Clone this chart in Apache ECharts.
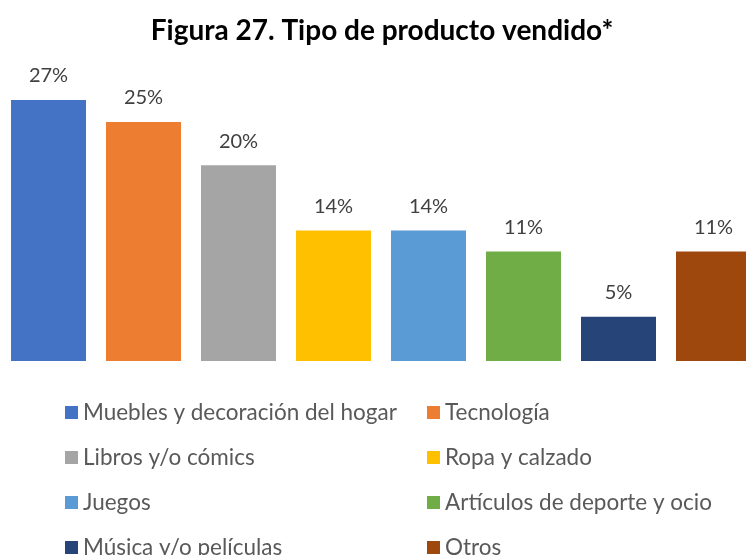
<!DOCTYPE html>
<html>
<head>
<meta charset="utf-8">
<script src="https://cdn.jsdelivr.net/npm/echarts@6/dist/echarts.min.js"></script>
<style>
    html, body { margin: 0; padding: 0; background: #fff; }
    #mychart { width: 746px; height: 555px; }
</style>
</head>
<body>
<div id="mychart"></div>
<script>
// categorías y porcentajes
var categorias = ['Muebles y decoración del hogar', 'Tecnología', 'Libros y/o cómics', 'Ropa y calzado',
    'Juegos', 'Artículos de deporte y ocio', 'Música y/o películas', 'Otros'];
var valores = [27.2, 24.9, 20.4, 13.6, 13.6, 11.4, 4.6, 11.4];
var colores = ['#4472C4', '#ED7D31', '#A5A5A5', '#FFC000', '#5B9BD5', '#70AD47', '#264478', '#9E480E'];

var myChart = echarts.init(document.getElementById('mychart'));

var series = [];
for (var i = 0; i < categorias.length; i++) {
    var datos = [];
    for (var j = 0; j < categorias.length; j++) {
        datos.push(j == i ? valores[i] : null);
    }
    series.push({
        name: categorias[i],
        type: 'bar',
        stack: 'total',
        barWidth: 75,
        data: datos,
        itemStyle: { color: colores[i] },
        label: {
            show: true,
            position: 'top',
            distance: 14,
            color: '#404040',
            fontSize: 20,
            fontFamily: 'Lato',
            formatter: function (p) {
                return Math.round(p.value) + '%';
            }
        }
    });
}

// leyenda: dos columnas, una leyenda por elemento
var legends = [];
for (var k = 0; k < categorias.length; k++) {
    legends.push({
        left: k % 2 == 0 ? 65 : 427,
        top: 401 + Math.floor(k / 2) * 45,
        padding: 0,
        icon: 'rect',
        itemWidth: 13,
        itemHeight: 13,
        itemTextGap: 6,
        selectedMode: false,
        data: [categorias[k]],
        textStyle: { color: '#595959', fontSize: 22.5, fontFamily: 'Lato' }
    });
}

myChart.setOption({
    animation: false,
    title: {
        text: 'Figura 27. Tipo de producto vendido*',
        left: 377,
        textAlign: 'center',
        top: 12,
        textStyle: { color: '#000', fontSize: 28, fontWeight: 'bold', fontFamily: 'Lato' }
    },
    legend: legends,
    grid: {
        left: 1,
        width: 760,
        top: 73,
        bottom: 194,
        containLabel: false,
        outerBoundsMode: 'none'
    },
    xAxis: {
        type: 'category',
        data: categorias,
        axisLine: { show: false },
        axisTick: { show: false },
        axisLabel: { show: false }
    },
    yAxis: {
        type: 'value',
        min: 0,
        max: 30,
        show: false,
        splitLine: { show: false }
    },
    series: series
});
</script>
</body>
</html>
